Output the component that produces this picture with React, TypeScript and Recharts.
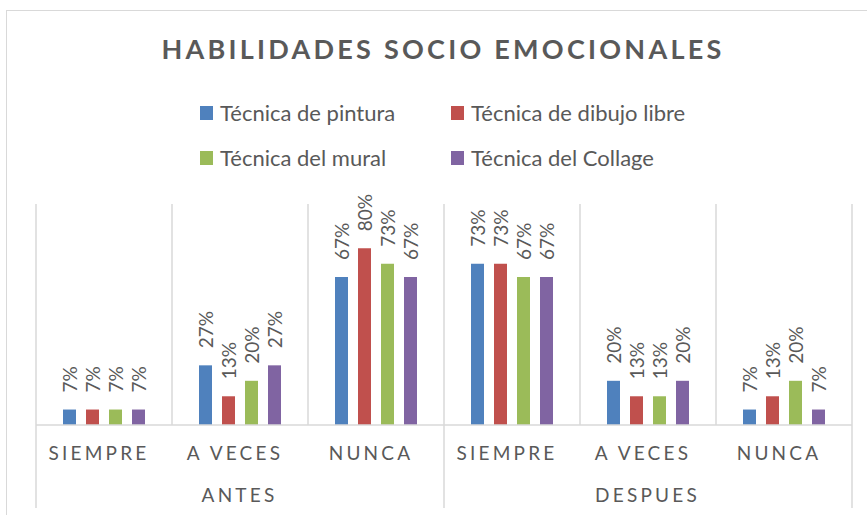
import { BarChart, Bar, XAxis, YAxis, CartesianGrid, Legend, LabelList } from 'recharts'

const categories = ['SIEMPRE', 'A VECES', 'NUNCA', 'SIEMPRE', 'A VECES', 'NUNCA']
const groups = ['ANTES', 'ANTES', 'ANTES', 'DESPUES', 'DESPUES', 'DESPUES']

const pintura = [7, 27, 67, 73, 20, 7]
const dibujoLibre = [7, 13, 80, 73, 13, 13]
const mural = [7, 20, 73, 67, 13, 20]
const collage = [7, 27, 67, 67, 20, 7]

const seriesNames = ['Técnica de pintura', 'Técnica de dibujo libre', 'Técnica del mural', 'Técnica del Collage']
const seriesColors = ['#4F81BD', '#C0504D', '#9BBB59', '#8064A2']

const data = categories.map((cat, i) => ({
  key: `${groups[i]}-${cat}`,
  cat,
  group: groups[i],
  s0: pintura[i],
  s1: dibujoLibre[i],
  s2: mural[i],
  s3: collage[i],
}))

const FONT = 'Lato, "Noto Sans", sans-serif'
const TEXT = '#595959'
const GRID = '#d9d9d9'
const PER_GROUP = 3
const SPACING = 3.2

// category + group labels, group separators below the axis
const CategoryTick = (props: any) => {
  const { x, y, index, width } = props
  const band = width / categories.length
  const axisY = y - 8
  const cat = categories[index]
  return (
    <g>
      <text
        x={x - 5}
        y={axisY + 35}
        textAnchor="middle"
        fontFamily={FONT}
        fontSize={19}
        letterSpacing={SPACING}
        fill={TEXT}
      >
        {cat}
      </text>
      {index % PER_GROUP === 1 && (
        <text
          x={x - 0.5}
          y={axisY + 77}
          textAnchor="middle"
          fontFamily={FONT}
          fontSize={19}
          letterSpacing={SPACING}
          fill={TEXT}
        >
          {groups[index]}
        </text>
      )}
      {index % PER_GROUP === 0 && (
        <line x1={x - band / 2} x2={x - band / 2} y1={axisY} y2={axisY + 83} stroke={GRID} strokeWidth={1.5} />
      )}
      {index === categories.length - 1 && (
        <line x1={x + band / 2} x2={x + band / 2} y1={axisY} y2={axisY + 83} stroke={GRID} strokeWidth={1.5} />
      )}
    </g>
  )
}

const RotatedLabel = (props: any) => {
  const { x, y, width, value } = props
  const cx = x + width / 2
  return (
    <text
      transform={`translate(${cx + 7}, ${y - 17}) rotate(-90)`}
      textAnchor="start"
      fontFamily={FONT}
      fontSize={19}
      fill={TEXT}
    >
      {`${value}%`}
    </text>
  )
}

const renderLegend = (props: any) => {
  const payload = [...(props.payload || [])].sort(
    (a: any, b: any) => seriesNames.indexOf(a.value) - seriesNames.indexOf(b.value)
  )
  return (
    <div
      style={{
        display: 'grid',
        gridTemplateColumns: '251px auto',
        gridAutoRows: '45px',
        marginLeft: 200,
        fontFamily: FONT,
        fontSize: 22,
        color: TEXT,
      }}
    >
      {payload.map((entry: any) => (
        <div key={entry.value} style={{ display: 'flex', alignItems: 'center' }}>
          <span style={{ width: 13, height: 14, background: entry.color, marginRight: 7, display: 'inline-block' }} />
          <span>{entry.value}</span>
        </div>
      ))}
    </div>
  )
}

export default function App() {
  return (
    <div style={{ position: 'absolute', left: 0, top: 0, width: 867, height: 515, overflow: 'hidden', background: '#fff' }}>
      {/* chart frame */}
      <div
        style={{
          position: 'absolute',
          left: 6,
          top: 10,
          width: 900,
          height: 600,
          border: `1.5px solid ${GRID}`,
        }}
      />
      <div
        style={{
          position: 'absolute',
          left: 0,
          top: 35,
          width: 886,
          textAlign: 'center',
          fontFamily: FONT,
          fontWeight: 700,
          fontSize: 27,
          lineHeight: '27px',
          letterSpacing: 3.25,
          color: TEXT,
        }}
      >
        HABILIDADES SOCIO EMOCIONALES
      </div>
      <div style={{ position: 'absolute', left: 0, top: 0 }}>
        <BarChart
          width={867}
          height={515}
          data={data}
          margin={{ top: 204, right: 15, left: 36, bottom: 0 }}
          barSize={13}
          barGap={10}
        >
          <CartesianGrid
            horizontal={false}
            stroke={GRID}
            strokeWidth={1.5}
            verticalCoordinatesGenerator={({ offset }: any) =>
              Array.from({ length: categories.length + 1 }, (_, i) => offset.left + (i * offset.width) / categories.length)
            }
          />
          <XAxis
            dataKey="key"
            height={90}
            interval={0}
            tickLine={false}
            axisLine={{ stroke: GRID, strokeWidth: 1.5 }}
            tick={<CategoryTick />}
          />
          <YAxis hide domain={[0, 100]} />
          <Legend
            layout="horizontal"
            verticalAlign="middle"
            align="center"
            wrapperStyle={{ top: 90, left: 0, width: 867 }}
            content={renderLegend}
          />
          {seriesNames.map((name, i) => (
            <Bar key={name} dataKey={`s${i}`} name={name} fill={seriesColors[i]} isAnimationActive={false}>
              <LabelList dataKey={`s${i}`} content={<RotatedLabel />} />
            </Bar>
          ))}
        </BarChart>
      </div>
    </div>
  )
}
